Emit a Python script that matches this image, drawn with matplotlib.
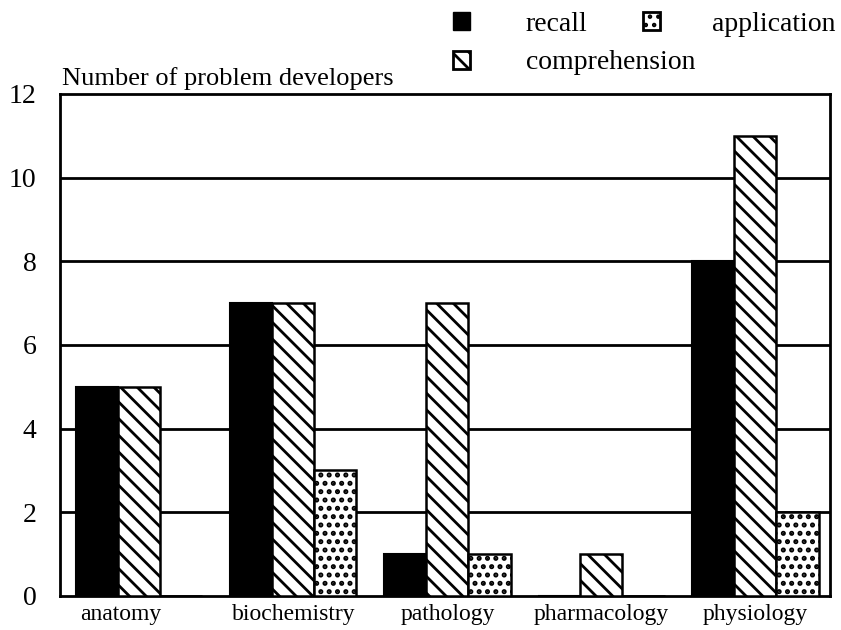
import matplotlib.pyplot as plt
import numpy as np
from matplotlib.patches import Patch

plt.rcParams["font.family"] = ["Liberation Serif", "DejaVu Serif"]
plt.rcParams["hatch.linewidth"] = 2.0

subjects = ["anatomy", "biochemistry", "pathology", "pharmacology", "physiology"]
recall = [5, 7, 1, 0, 8]
comprehension = [5, 7, 7, 1, 11]
application = [0, 3, 1, 0, 2]

fig = plt.figure(figsize=(8.41, 6.3), dpi=100)
ax = fig.add_axes([0.0713, 0.054, 0.9156, 0.797])

x = np.arange(len(subjects))
w = 0.273

ax.bar(x - w, recall, width=w, color="black", edgecolor="black", linewidth=1.5, zorder=3)
ax.bar(x, comprehension, width=w, color="white", edgecolor="black", hatch="\\\\",
       linewidth=1.8, zorder=3)
with plt.rc_context({"hatch.linewidth": 2.4}):
    ax.bar(x + w, application, width=w, color="white", edgecolor="black", hatch="..",
           linewidth=1.8, zorder=3)

for y in range(2, 12, 2):
    ax.axhline(y, color="black", linewidth=2, zorder=1)

ax.set_ylim(0, 12)
ax.set_xlim(-0.516, 4.484)
ax.set_yticks(range(0, 13, 2))
ax.set_xticks(x - np.array([0.12, 0, 0, 0, 0]))
ax.set_xticklabels(subjects, fontsize=17)
ax.tick_params(axis="y", length=0, pad=17, labelsize=20)
ax.tick_params(axis="x", length=0, pad=6)
for s in ax.spines.values():
    s.set_linewidth(2)

ax.text(0.002, 1.008, "Number of problem developers", transform=ax.transAxes,
        fontsize=19, ha="left", va="bottom")

h_rec = Patch(facecolor="black", edgecolor="black", label="recall")
h_comp = Patch(facecolor="white", edgecolor="black", hatch="\\\\", linewidth=2,
               label="comprehension")
with plt.rc_context({"hatch.linewidth": 2.4}):
    h_app = Patch(facecolor="white", edgecolor="black", hatch="..", linewidth=2,
                  label="application")

fig.legend(handles=[h_rec, h_comp], loc="upper left",
           bbox_to_anchor=(0.5386, 0.981), frameon=False, fontsize=20,
           handlelength=0.62, handleheight=0.62, handletextpad=2.0,
           labelspacing=0.48, borderpad=0, borderaxespad=0)
fig.legend(handles=[h_app], loc="upper left", bbox_to_anchor=(0.7646, 0.981),
           frameon=False, fontsize=20, handlelength=0.62, handleheight=0.62,
           handletextpad=1.85, borderpad=0, borderaxespad=0)

fig.savefig("out.png", dpi=100)
